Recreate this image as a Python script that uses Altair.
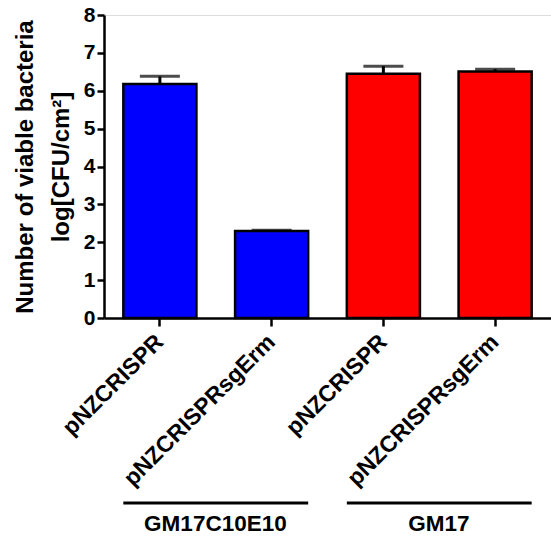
import altair as alt
import pandas as pd

groups = ["GM17C10E10", "GM17C10E10", "GM17", "GM17"]
strains = ["pNZCRISPR", "pNZCRISPRsgErm", "pNZCRISPR", "pNZCRISPRsgErm"]
means = [6.18, 2.30, 6.45, 6.51]
uppers = [6.38, 2.32, 6.65, 6.57]
y_ticks = [0, 1, 2, 3, 4, 5, 6, 7, 8]

group_names = ["GM17C10E10", "GM17"]
group_first = ["GM17C10E10|pNZCRISPR", "GM17|pNZCRISPR"]
group_last = ["GM17C10E10|pNZCRISPRsgErm", "GM17|pNZCRISPRsgErm"]

keys = [g + "|" + s for g, s in zip(groups, strains)]
df = pd.DataFrame({"key": keys, "group": groups, "strain": strains,
                   "mean": means, "upper": uppers})
gdf = pd.DataFrame({"group": group_names, "first": group_first, "last": group_last})

FONT = "Liberation Sans"
xscale = alt.Scale(domain=keys, paddingInner=0.346, paddingOuter=0.173)
xaxis = alt.Axis(labelExpr="split(datum.label, '|')[1]",
                 labelAngle=-45, labelAlign="right", labelBaseline="middle",
                 labelFontSize=23, labelFontWeight="bold", labelFont=FONT,
                 labelColor="black", labelPadding=12, labelLimit=0,
                 tickSize=8, tickWidth=2.5, tickColor="black",
                 domainColor="black", domainWidth=2.5)
yscale = alt.Scale(domain=[0, 8], nice=False)
yaxis = alt.Axis(values=y_ticks, labelOverlap=False,
                 labelFontSize=21, labelFontWeight="bold", labelFont=FONT,
                 labelColor="black", labelPadding=2, tickSize=7,
                 tickWidth=2.5, tickColor="black", domainColor="black",
                 domainWidth=2.5, grid=False, titleFont=FONT,
                 titleFontSize=24, titleFontWeight="bold", titleColor="black",
                 titleLineHeight=36, titlePadding=10)
ytitle = ["Number of viable bacteria", "log[CFU/cm²]"]

base = alt.Chart(df)
bars = base.mark_bar(stroke="black", strokeWidth=2.5).encode(
    x=alt.X("key:N", scale=xscale, sort=keys, title=None, axis=xaxis),
    y=alt.Y("mean:Q", scale=yscale, title=ytitle, axis=yaxis),
    color=alt.Color("group:N", scale=alt.Scale(domain=group_names,
                                               range=["#0000FF", "#FF0000"]),
                    legend=None))
err = base.mark_rule(color="black", strokeWidth=3).encode(
    x=alt.X("key:N", scale=xscale, sort=keys, title=None, axis=xaxis),
    y=alt.Y("mean:Q", scale=yscale, title=ytitle, axis=yaxis),
    y2="upper:Q")
cap = base.mark_tick(color="black", thickness=3, size=40).encode(
    x=alt.X("key:N", scale=xscale, sort=keys, title=None, axis=xaxis),
    y=alt.Y("upper:Q", scale=yscale, title=ytitle, axis=yaxis))

gbase = alt.Chart(gdf)
glines = gbase.mark_rule(color="black", strokeWidth=3).encode(
    x=alt.X("first:N", scale=xscale, bandPosition=0, title=None, axis=xaxis),
    x2=alt.X2("last:N", bandPosition=1),
    y=alt.value(488))
gtext = gbase.mark_text(font=FONT, fontSize=22.5, fontWeight="bold", color="black",
                        baseline="alphabetic", align="center", dx=19).encode(
    x=alt.X("first:N", scale=xscale, bandPosition=1, title=None, axis=xaxis),
    y=alt.value(516), text="group:N")

chart = alt.layer(bars, err, cap, glines, gtext).properties(
    width=447, height=303,
    autosize=alt.AutoSizeParams(type="none"),
    padding={"left": 104, "top": 15, "right": 0, "bottom": 219},
).configure_view(stroke=None).configure(background="white")

chart.save("out.html", embed_options={"renderer": "svg", "actions": False})
